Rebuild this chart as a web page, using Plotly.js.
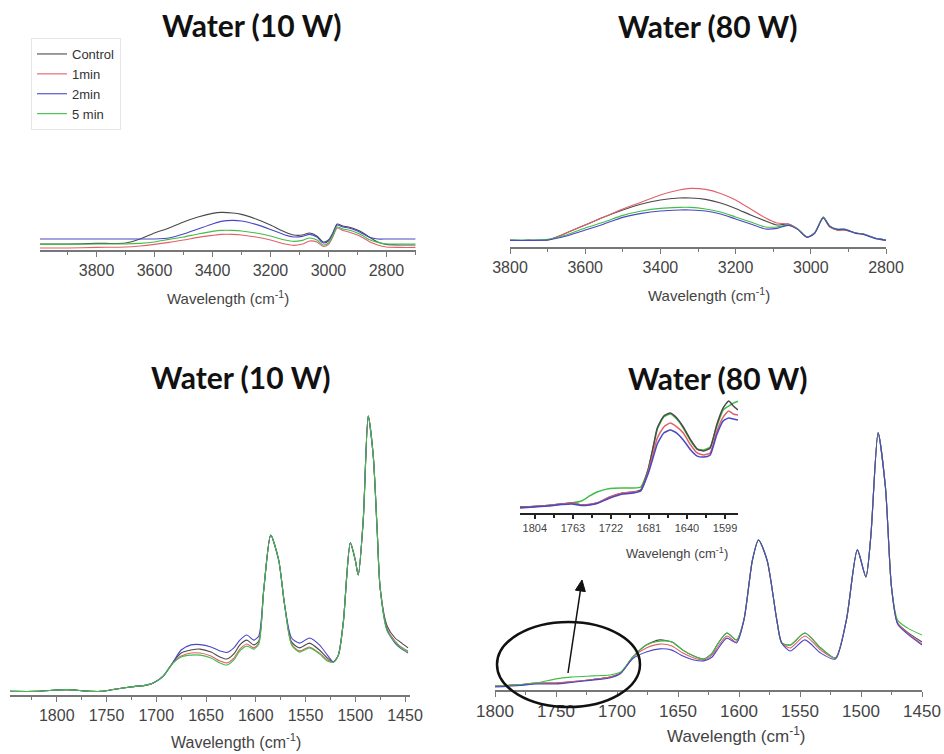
<!DOCTYPE html>
<html>
<head>
<meta charset="utf-8">
<script src="https://cdn.plot.ly/plotly-3.0.1.min.js"></script>
<style>html,body{margin:0;padding:0;background:#fff;}#chart{width:944px;height:754px;}</style>
</head>
<body>
<div id="chart"></div>
<script>
// ---------- DATA ----------
const seriesNames = ['Control', '1min', '2min', '5 min'];

// Top-left: Water (10 W), 4000-2700 cm-1
const wnTop10 = [3995,3900,3800,3700,3650,3600,3550,3500,3450,3400,3370,3330,3300,3250,3200,3150,3120,3090,3065,3040,3018,3000,2985,2970,2950,2930,2900,2880,2860,2830,2800,2750,2700];
const control10Top = [0.030,0.030,0.033,0.035,0.055,0.085,0.110,0.140,0.165,0.183,0.188,0.185,0.178,0.155,0.125,0.090,0.075,0.075,0.085,0.070,0.040,0.050,0.085,0.130,0.120,0.115,0.100,0.085,0.065,0.040,0.028,0.025,0.025];
const min1_10Top = [0.010,0.010,0.013,0.015,0.020,0.028,0.038,0.050,0.063,0.073,0.078,0.078,0.075,0.065,0.050,0.030,0.023,0.030,0.045,0.040,0.018,0.028,0.065,0.110,0.098,0.090,0.075,0.060,0.043,0.025,0.015,0.013,0.013];
const min2_10Top = [0.055,0.055,0.055,0.055,0.055,0.055,0.060,0.080,0.105,0.130,0.143,0.148,0.145,0.128,0.103,0.075,0.065,0.068,0.078,0.065,0.035,0.045,0.080,0.125,0.115,0.110,0.095,0.080,0.065,0.055,0.055,0.055,0.055];
const min5_10Top = [0.028,0.028,0.030,0.030,0.033,0.040,0.053,0.065,0.080,0.093,0.098,0.098,0.095,0.085,0.070,0.050,0.043,0.048,0.060,0.050,0.025,0.035,0.070,0.115,0.105,0.100,0.085,0.070,0.053,0.038,0.030,0.030,0.030];

// Top-right: Water (80 W), 3800-2800 cm-1
const wnTop80 = [3800,3750,3700,3650,3600,3550,3500,3450,3400,3350,3320,3280,3240,3200,3160,3120,3090,3060,3035,3010,2990,2967,2950,2930,2910,2880,2860,2830,2800];
const control80Top = [0.033,0.033,0.035,0.070,0.110,0.150,0.185,0.215,0.235,0.245,0.245,0.238,0.220,0.193,0.160,0.130,0.110,0.115,0.090,0.050,0.070,0.150,0.105,0.085,0.085,0.070,0.065,0.045,0.035];
const min1_80Top = [0.033,0.033,0.035,0.070,0.110,0.150,0.190,0.225,0.260,0.285,0.293,0.288,0.268,0.235,0.190,0.145,0.120,0.115,0.090,0.050,0.070,0.145,0.100,0.085,0.085,0.070,0.065,0.045,0.035];
const min2_80Top = [0.033,0.033,0.035,0.055,0.085,0.115,0.148,0.168,0.180,0.185,0.185,0.180,0.165,0.140,0.115,0.090,0.093,0.108,0.088,0.048,0.068,0.145,0.103,0.088,0.088,0.068,0.063,0.043,0.033];
const min5_80Top = [0.035,0.035,0.038,0.060,0.095,0.125,0.158,0.180,0.193,0.198,0.198,0.190,0.175,0.150,0.125,0.100,0.100,0.110,0.090,0.050,0.070,0.148,0.105,0.090,0.090,0.070,0.065,0.045,0.035];

// Bottom-left: Water (10 W), 1847-1445 cm-1
const wnBot10 = [1847,1820,1790,1770,1756,1740,1723,1710,1703,1693,1683,1675,1665,1656,1645,1636,1629,1622,1616,1609,1602,1597,1592,1585,1577,1571,1564,1556,1546,1536,1528,1522,1517,1512,1505,1500,1497,1492,1487,1482,1478,1475,1468,1460,1455,1447];
const control10Bot = [0.012,0.012,0.018,0.013,0.012,0.020,0.028,0.033,0.040,0.063, 0.110,0.140,0.150,0.153,0.143,0.127,0.120,0.137,0.167,0.183, 0.167,0.180,0.350,0.533,0.450,0.300,0.177,0.157,0.173,0.150, 0.123,0.110,0.133,0.243,0.507,0.450,0.400,0.583,0.930,0.800, 0.550,0.357,0.230,0.190,0.177,0.157];
const min1_10Bot = [0.012,0.012,0.018,0.013,0.012,0.020,0.028,0.033,0.040,0.063, 0.107,0.130,0.140,0.140,0.130,0.113,0.107,0.123,0.153,0.170, 0.157,0.173,0.350,0.533,0.450,0.300,0.170,0.147,0.160,0.140, 0.117,0.110,0.133,0.243,0.507,0.450,0.400,0.583,0.930,0.800, 0.550,0.357,0.220,0.180,0.163,0.147];
const min2_10Bot = [0.012,0.012,0.018,0.013,0.012,0.020,0.028,0.033,0.040,0.063, 0.110,0.150,0.167,0.168,0.160,0.147,0.142,0.157,0.183,0.200, 0.183,0.197,0.350,0.533,0.450,0.300,0.190,0.173,0.190,0.167, 0.133,0.110,0.133,0.243,0.507,0.450,0.400,0.583,0.930,0.800, 0.550,0.357,0.217,0.173,0.157,0.140];
const min5_10Bot = [0.012,0.012,0.018,0.013,0.012,0.020,0.028,0.033,0.040,0.063, 0.107,0.127,0.133,0.133,0.123,0.107,0.100,0.117,0.147,0.163, 0.153,0.170,0.350,0.533,0.450,0.300,0.167,0.143,0.157,0.137, 0.113,0.110,0.133,0.243,0.507,0.450,0.400,0.583,0.930,0.800, 0.550,0.357,0.213,0.177,0.160,0.143];

// Bottom-right: Water (80 W), 1800-1450 cm-1
const wnBot80 = [1800,1780,1766,1750,1738,1720,1706,1697,1687,1676, 1665,1655,1646,1637,1629,1622,1618,1610,1602,1596, 1589,1584,1577,1569,1565,1558,1546,1533,1521,1512, 1503,1496,1492,1486,1480,1475,1470,1462,1450];
const control80Bot = [0.013,0.018,0.023,0.023,0.027,0.035,0.043,0.057,0.110,0.150, 0.167,0.160,0.133,0.113,0.103,0.123,0.150,0.190,0.167,0.233, 0.433,0.500,0.433,0.233,0.157,0.150,0.190,0.140,0.107,0.233, 0.467,0.377,0.510,0.857,0.677,0.343,0.223,0.193,0.160];
const min1_80Bot = [0.013,0.018,0.023,0.023,0.027,0.035,0.043,0.057,0.110,0.140, 0.153,0.147,0.123,0.107,0.100,0.117,0.140,0.180,0.160,0.233, 0.433,0.500,0.433,0.233,0.157,0.140,0.180,0.133,0.107,0.233, 0.467,0.377,0.510,0.857,0.677,0.343,0.223,0.190,0.153];
const min2_80Bot = [0.010,0.015,0.020,0.020,0.025,0.033,0.040,0.055,0.105,0.127, 0.137,0.133,0.113,0.100,0.097,0.110,0.133,0.173,0.157,0.233, 0.433,0.500,0.433,0.233,0.157,0.130,0.167,0.123,0.103,0.233, 0.467,0.377,0.510,0.857,0.677,0.343,0.220,0.187,0.150];
const min5_80Bot = [0.013,0.018,0.023,0.037,0.043,0.047,0.050,0.060,0.110,0.150, 0.163,0.160,0.133,0.113,0.103,0.123,0.150,0.190,0.167,0.233, 0.433,0.500,0.433,0.233,0.157,0.150,0.190,0.140,0.107,0.233, 0.467,0.377,0.510,0.857,0.677,0.343,0.233,0.207,0.183];

// Inset: Water (80 W) zoom 1820-1585 cm-1
const wnInset = [1820,1805,1790,1775,1764,1754,1745,1737,1723,1709, 1698,1690,1682,1676,1672,1665,1658,1651,1644,1636, 1629,1622,1615,1608,1601,1595,1590,1585];
const controlInset = [0.046,0.050,0.058,0.069,0.077,0.062,0.065,0.077,0.123,0.154, 0.162,0.177,0.331,0.523,0.654,0.746,0.769,0.731,0.662,0.562, 0.492,0.477,0.500,0.677,0.808,0.862,0.823,0.792];
const min1Inset = [0.042,0.050,0.058,0.069,0.077,0.062,0.065,0.077,0.123,0.154, 0.162,0.169,0.315,0.469,0.577,0.662,0.692,0.662,0.615,0.523, 0.462,0.446,0.462,0.623,0.738,0.785,0.762,0.754];
const min2Inset = [0.038,0.046,0.054,0.065,0.069,0.058,0.062,0.073,0.115,0.146, 0.154,0.169,0.300,0.438,0.531,0.615,0.638,0.615,0.562,0.485, 0.438,0.431,0.446,0.600,0.708,0.731,0.723,0.715];
const min5Inset = [0.046,0.050,0.058,0.069,0.077,0.092,0.131,0.162,0.189,0.192, 0.192,0.200,0.331,0.515,0.646,0.738,0.762,0.723,0.654,0.554, 0.492,0.485,0.508,0.662,0.792,0.823,0.845,0.860];

const insetTicks = [1804, 1763, 1722, 1681, 1640, 1599];

// ---------- STYLE ----------
const colors = {'Control': '#4a4a4a', '1min': '#e2606c', '2min': '#4c46c6', '5 min': '#3fbf45'};
const W = 944, H = 754;
const px = v => v / W;
const py = v => 1 - v / H;

const traces = [];
function addSet(x, ys, names, xa, ya, legend, width, smooth) {
  names.forEach((n, i) => {
    traces.push({
      type: 'scatter', mode: 'lines', x: x, y: ys[i], name: n,
      xaxis: xa, yaxis: ya, showlegend: legend,
      line: {color: colors[n], width: width, shape: 'spline', smoothing: smooth},
      hoverinfo: 'skip'
    });
  });
}
addSet(wnTop10, [control10Top, min1_10Top, min2_10Top, min5_10Top], seriesNames, 'x', 'y', true, 1.1, 0.7);
addSet(wnTop80, [control80Top, min1_80Top, min5_80Top, min2_80Top], ['Control','1min','5 min','2min'], 'x2', 'y2', false, 1.1, 0.7);
addSet(wnBot10, [control10Bot, min1_10Bot, min2_10Bot, min5_10Bot], seriesNames, 'x3', 'y3', false, 1.1, 0.7);
addSet(wnBot80, [control80Bot, min1_80Bot, min5_80Bot, min2_80Bot], ['Control','1min','5 min','2min'], 'x4', 'y4', false, 1.1, 0.7);
addSet(wnInset, [min5Inset, controlInset, min1Inset, min2Inset], ['5 min','Control','1min','2min'], 'x5', 'y5', false, 1.5, 0.5);

const FAM = '"Liberation Sans", Arial, sans-serif';
const tickFont = s => ({family: FAM, size: s, color: '#444'});
function xAxis(dom, range, anchor, dtick, minorD, fs, extra) {
  return Object.assign({
    domain: dom, range: range, anchor: anchor, dtick: dtick,
    showgrid: false, zeroline: false, showline: true, linecolor: '#777', linewidth: 1.5,
    ticks: 'outside', ticklen: 5, tickcolor: '#777', tickwidth: 1,
    minor: {dtick: minorD, ticks: 'outside', ticklen: 3, tickcolor: '#777', showgrid: false},
    tickfont: tickFont(fs), automargin: false, fixedrange: true
  }, extra || {});
}
function yAxis(dom, anchor) {
  return {domain: dom, range: [0, 1], anchor: anchor, visible: false, fixedrange: true};
}

const titleFont = {family: 'Lato, "Open Sans", sans-serif', size: 30, color: '#111', weight: 'bold'};
const axTitleFont = s => ({family: FAM, size: s, color: '#444'});
function ann(text, x, y, font) {
  return {text: text, x: px(x), y: py(y), xref: 'paper', yref: 'paper', showarrow: false, font: font, xanchor: 'center', yanchor: 'middle'};
}

// arrow geometry (paper pixels): tail in ellipse, tip below inset
const arrowTail = [568, 673], arrowTip = [582, 580];
const ang = Math.atan2(arrowTip[1] - arrowTail[1], arrowTip[0] - arrowTail[0]);
const headL = 11, headW = 5;
const bx = arrowTip[0] - headL * Math.cos(ang), by = arrowTip[1] - headL * Math.sin(ang);
const h1 = [bx + headW * Math.sin(ang), by - headW * Math.cos(ang)];
const h2 = [bx - headW * Math.sin(ang), by + headW * Math.cos(ang)];

const layout = {
  width: W, height: H,
  margin: {l: 0, r: 0, t: 0, b: 0},
  paper_bgcolor: '#fff', plot_bgcolor: 'rgba(0,0,0,0)',
  showlegend: true,
  legend: {x: px(31), y: py(38), xanchor: 'left', yanchor: 'top', bgcolor: 'rgba(255,255,255,0)',
           bordercolor: '#e6e6e6', borderwidth: 1, tracegroupgap: 0, itemwidth: 30,
           font: {family: FAM, size: 13, color: '#333'}},
  xaxis: xAxis([px(40), px(416)], [3995, 2698], 'y', 200, 100, 16, {tick0: 2800}),
  yaxis: yAxis([py(250), py(50)], 'x'),
  xaxis2: xAxis([px(510), px(886)], [3800, 2800], 'y2', 200, 100, 16),
  yaxis2: yAxis([py(247), py(47)], 'x2'),
  xaxis3: xAxis([px(10), px(410)], [1847, 1445], 'y3', 50, 25, 16),
  yaxis3: yAxis([py(695), py(395)], 'x3'),
  xaxis4: xAxis([px(495), px(922)], [1800, 1450], 'y4', 50, 25, 17),
  yaxis4: yAxis([py(690), py(390)], 'x4'),
  xaxis5: {
    domain: [px(520), px(738)], range: [1820, 1585], anchor: 'y5',
    tickmode: 'array', tickvals: insetTicks, ticktext: insetTicks.map(String),
    showgrid: false, zeroline: false, showline: true, linecolor: '#222', linewidth: 2,
    ticks: 'outside', ticklen: 4, tickcolor: '#222', tickwidth: 1.5,
    minor: {tickvals: [1824.5, 1783.5, 1742.5, 1701.5, 1660.5, 1619.5], ticks: 'outside', ticklen: 3, tickcolor: '#222', showgrid: false},
    tickfont: tickFont(11), automargin: false, fixedrange: true
  },
  yaxis5: yAxis([py(513), py(383)], 'x5'),
  annotations: [
    ann('Water (10 W)', 252, 25, titleFont),
    ann('Water (80 W)', 708, 26, titleFont),
    ann('Water (10 W)', 241, 377, titleFont),
    ann('Water (80 W)', 718, 378, titleFont),
    ann('Wavelength (cm<sup>-1</sup>)', 228, 297, axTitleFont(15)),
    ann('Wavelength (cm<sup>-1</sup>)', 709, 294, axTitleFont(15)),
    ann('Wavelength (cm<sup>-1</sup>)', 236, 741, axTitleFont(16)),
    ann('Wavelength (cm<sup>-1</sup>)', 736, 735, axTitleFont(17)),
    ann('Wavelengh (cm<sup>-1</sup>)', 677, 553, axTitleFont(13))
  ],
  shapes: [
    {type: 'circle', xref: 'paper', yref: 'paper', x0: px(497), x1: px(640), y0: py(707), y1: py(622),
     line: {color: '#111', width: 2.5}},
    {type: 'line', xref: 'paper', yref: 'paper', x0: px(arrowTail[0]), y0: py(arrowTail[1]), x1: px(bx), y1: py(by),
     line: {color: '#111', width: 1.5}},
    {type: 'path', xref: 'paper', yref: 'paper',
     path: `M ${px(arrowTip[0])} ${py(arrowTip[1])} L ${px(h1[0])} ${py(h1[1])} L ${px(h2[0])} ${py(h2[1])} Z`,
     fillcolor: '#111', line: {color: '#111', width: 1}}
  ]
};

Plotly.newPlot('chart', traces, layout, {displayModeBar: false, staticPlot: true});
</script>
</body>
</html>
